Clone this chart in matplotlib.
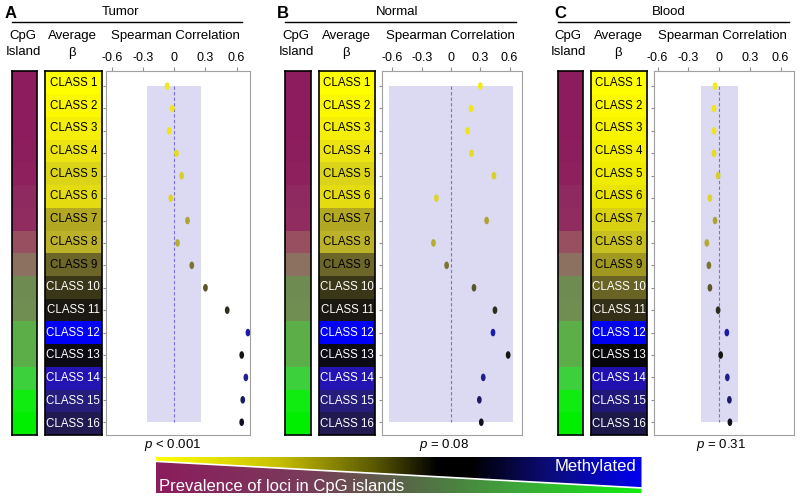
import matplotlib
matplotlib.use('Agg')
import matplotlib.pyplot as plt
import numpy as np
from matplotlib.path import Path
from matplotlib.patches import Polygon
from matplotlib.lines import Line2D
from matplotlib.colors import LinearSegmentedColormap

plt.rcParams['font.family'] = ['Liberation Sans', 'DejaVu Sans']
plt.rcParams['axes.unicode_minus'] = False
plt.rcParams['mathtext.fontset'] = 'custom'
plt.rcParams['mathtext.it'] = 'Liberation Sans:italic'
plt.rcParams['mathtext.rm'] = 'Liberation Sans'

# ---------------------------------------------------------------------------
# Data
# ---------------------------------------------------------------------------

classes = ['CLASS 1', 'CLASS 2', 'CLASS 3', 'CLASS 4', 'CLASS 5', 'CLASS 6',
           'CLASS 7', 'CLASS 8', 'CLASS 9', 'CLASS 10', 'CLASS 11', 'CLASS 12',
           'CLASS 13', 'CLASS 14', 'CLASS 15', 'CLASS 16']

panel_letters = ['A', 'B', 'C']
tissues = ['Tumor', 'Normal', 'Blood']
p_labels = [r'$p$ < 0.001', r'$p$ = 0.08', r'$p$ = 0.31']

rho_tumor = [-0.07, -0.02, -0.05, 0.02, 0.07, -0.035, 0.127, 0.03,
             0.168, 0.30, 0.51, 0.71, 0.65, 0.69, 0.66, 0.65]
rho_normal = [0.30, 0.205, 0.17, 0.21, 0.44, -0.15, 0.365, -0.18,
              -0.045, 0.235, 0.45, 0.43, 0.585, 0.33, 0.29, 0.31]
rho_blood = [-0.04, -0.05, -0.05, -0.05, -0.01, -0.09, -0.04, -0.12,
             -0.10, -0.09, -0.01, 0.075, 0.015, 0.08, 0.10, 0.105]

# null range of the correlation (shaded band)
null_lo = [-0.26, -0.64, -0.18]
null_hi = [0.26, 0.63, 0.18]

xticks = [-0.6, -0.3, 0, 0.3, 0.6]
xtick_labels = ['-0.6', '-0.3', '0', '0.3', '0.6']

cpg_colors = ['#8c1c5e', '#8c1c5e', '#8c1c5e', '#8c1e5e', '#8e205e', '#8e2a60',
              '#902c60', '#985060', '#8c7060', '#6e8c52', '#708e52', '#5cae48',
              '#5cae48', '#3cd03c', '#10ec10', '#00ee00']

beta_colors_ab = ['#ffff00', '#fcf800', '#f4ee08', '#ece410', '#dcd418', '#e4dc10',
                  '#b2a822', '#bcb22a', '#6c6628', '#3a3618', '#1a1810', '#0000f8',
                  '#0c0a14', '#2414b4', '#261c7c', '#201a50']
beta_colors_c = ['#ffff00', '#fdfa00', '#f8f400', '#f4f000', '#f0ec00', '#eae400',
                 '#d8d010', '#c8c020', '#a09820', '#6a6424', '#343018', '#0000f0',
                 '#060608', '#2010b0', '#201878', '#1c1848']

dot_colors = ['#f2ea18', '#eee61a', '#ece41c', '#e4dc20', '#d8d028', '#dcd428',
              '#aca432', '#b4ac32', '#7c7432', '#5a5628', '#2e2c1c', '#1c1caa',
              '#141414', '#20208a', '#1c1c66', '#101022']

meth_stops = [(0.0, '#ffff00'), (0.25, '#c8c000'), (0.45, '#5a5800'), (0.58, '#000000'),
              (0.65, '#000000'), (0.82, '#0c0c80'), (1.0, '#0000f0')]
cpg_stops = [(0.0, '#8c1c5e'), (0.3, '#7a3a5a'), (0.5, '#5a6248'), (0.75, '#3ca83a'),
             (1.0, '#10ee10')]

# ---------------------------------------------------------------------------
# Layout (pixel coordinates of the 800x498 canvas)
# ---------------------------------------------------------------------------

W, H = 800, 498
TOP, BOT = 71.5, 435

layouts = [
    dict(cpg=(12, 36.5), beta=(45, 101.7), sc=(106, 250), xlim=(-0.66, 0.73),
         letter=5, title=120, line=(12, 242), cpg_lab=23, avg_lab=72, sp_lab=175, p=173),
    dict(cpg=(285, 310.7), beta=(319, 375.3), sc=(381.7, 522.3), xlim=(-0.71, 0.73),
         letter=277, title=397, line=(285, 516), cpg_lab=296, avg_lab=346, sp_lab=450, p=444),
    dict(cpg=(557.7, 583.3), beta=(591, 647), sc=(653.5, 794), xlim=(-0.64, 0.73),
         letter=554, title=669, line=(558, 789), cpg_lab=568, avg_lab=618, sp_lab=722, p=721),
]


def rect(x0, x1, y0, y1):
    return [x0 / W, 1 - y1 / H, (x1 - x0) / W, (y1 - y0) / H]


def fx(x):
    return x / W


def fy(y):
    return 1 - y / H


circ = Path.unit_circle()
ellipse = Path(circ.vertices * np.array([0.62, 1.0]), circ.codes)

fig = plt.figure(figsize=(8, 4.98), dpi=100)

ypos = np.arange(1, len(classes) + 1)
rhos = [rho_tumor, rho_normal, rho_blood]
beta_sets = [beta_colors_ab, beta_colors_ab, beta_colors_c]

for i, lay in enumerate(layouts):
    # --- CpG island column ---
    ax_c = fig.add_axes(rect(lay['cpg'][0], lay['cpg'][1], TOP, BOT))
    ax_c.barh(ypos, 1, height=1.0, color=cpg_colors, linewidth=0)
    ax_c.set_xlim(0, 1)
    ax_c.set_ylim(16.5, 0.5)
    ax_c.set_xticks([])
    ax_c.set_yticks([])
    for s in ax_c.spines.values():
        s.set_linewidth(1.2)

    # --- average beta column ---
    ax_b = fig.add_axes(rect(lay['beta'][0], lay['beta'][1], TOP, BOT))
    ax_b.barh(ypos, 1, height=1.0, color=beta_sets[i], linewidth=0)
    for y, name in zip(ypos, classes):
        ax_b.text(0.5, y, name, ha='center', va='center', fontsize=8.3,
                  color='black' if y <= 9 else 'white')
    ax_b.set_xlim(0, 1)
    ax_b.set_ylim(16.5, 0.5)
    ax_b.set_xticks([])
    ax_b.set_yticks([])
    for s in ax_b.spines.values():
        s.set_linewidth(1.2)

    # --- Spearman correlation dots ---
    ax_s = fig.add_axes(rect(lay['sc'][0], lay['sc'][1], TOP, BOT))
    ax_s.fill_betweenx([1, 16], null_lo[i], null_hi[i], color='#dcd9f2', lw=0, zorder=0)
    ax_s.vlines(0, 1, 16, colors='#7a70d8', linestyles=(0, (3, 2)), lw=0.8, zorder=1)
    ax_s.scatter(rhos[i], ypos, marker=ellipse, s=30, c=dot_colors, linewidths=0, zorder=3)
    ax_s.set_xlim(*lay['xlim'])
    ax_s.set_ylim(16.57, 0.35)
    ax_s.xaxis.tick_top()
    ax_s.set_xticks(xticks)
    ax_s.set_xticklabels(xtick_labels)
    ax_s.set_yticks(ypos)
    ax_s.set_yticklabels([])
    ax_s.tick_params(axis='x', direction='out', length=3, color='#909090',
                     labelsize=9, pad=2.5)
    ax_s.tick_params(axis='y', direction='out', length=2, color='#909090')
    for s in ax_s.spines.values():
        s.set_color('#a0a0a0')
        s.set_linewidth(0.8)

    # --- headers ---
    fig.text(fx(lay['letter']), fy(13), panel_letters[i], fontsize=12,
             fontweight='bold', ha='left', va='center')
    fig.text(fx(lay['title']), fy(12), tissues[i], fontsize=9.5, ha='center', va='center')
    fig.add_artist(Line2D([fx(lay['line'][0]), fx(lay['line'][1])], [fy(22), fy(22)],
                          transform=fig.transFigure, color='black', lw=1))
    fig.text(fx(lay['cpg_lab']), fy(36), 'CpG', fontsize=9.5, ha='center', va='center')
    fig.text(fx(lay['cpg_lab']), fy(52), 'Island', fontsize=9.5, ha='center', va='center')
    fig.text(fx(lay['avg_lab']), fy(36), 'Average', fontsize=9.5, ha='center', va='center')
    fig.text(fx(lay['avg_lab']), fy(53), 'β', fontsize=9.5, ha='center', va='center')
    fig.text(fx(lay['sp_lab']), fy(36), 'Spearman Correlation', fontsize=9.5,
             ha='center', va='center')
    fig.text(fx(lay['p']), fy(445), p_labels[i], fontsize=9.5, ha='center', va='center')

# ---------------------------------------------------------------------------
# Bottom gradient legend
# ---------------------------------------------------------------------------

ax_g = fig.add_axes(rect(155.5, 641.5, 457, 493))
ax_g.set_xlim(0, 1)
ax_g.set_ylim(0, 1)
ax_g.axis('off')
grad = np.linspace(0, 1, 400).reshape(1, -1)
meth_cmap = LinearSegmentedColormap.from_list('meth', meth_stops)
cpg_cmap = LinearSegmentedColormap.from_list('cpg', cpg_stops)

upper = Polygon([(0, 1), (1, 1), (1, 0.14), (0, 0.88)], closed=True,
                transform=ax_g.transData, facecolor='none', edgecolor='none')
lower = Polygon([(0, 0), (1, 0), (1, 0.14), (0, 0.88)], closed=True,
                transform=ax_g.transData, facecolor='none', edgecolor='none')
ax_g.add_patch(upper)
ax_g.add_patch(lower)
im1 = ax_g.imshow(grad, cmap=meth_cmap, extent=[0, 1, 0, 1], aspect='auto')
im1.set_clip_path(upper)
im2 = ax_g.imshow(grad, cmap=cpg_cmap, extent=[0, 1, 0, 1], aspect='auto')
im2.set_clip_path(lower)
ax_g.plot([0, 1], [0.88, 0.14], color='white', lw=1.2)

fig.text(fx(596), fy(466), 'Methylated', fontsize=12, color='white', ha='center', va='center')
fig.text(fx(159), fy(486), 'Prevalence of loci in CpG islands', fontsize=12,
         color='white', ha='left', va='center')

fig.savefig('out.png', dpi=100)
